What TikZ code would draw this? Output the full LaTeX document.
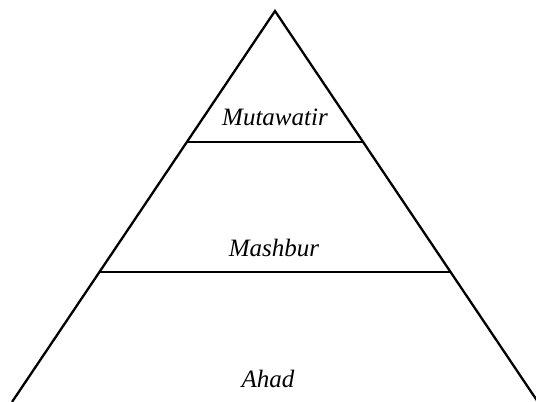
\documentclass[tikz,border=0pt]{standalone}
\usepackage{fontspec}
\setmainfont{Liberation Serif}
\usetikzlibrary{calc}
\begin{document}
\begin{tikzpicture}[x=1pt,y=1pt,
  edge/.style={line width=2.3pt,line join=miter},
  tier/.style={anchor=base,inner sep=0pt,font=\fontsize{25}{30}\selectfont\itshape}]
\useasboundingbox (0,0) rectangle (536,402);
\coordinate (A) at (275,391);
\coordinate (L) at (12,0);
\coordinate (R) at (538,0);
\draw[edge] (L) -- (A) -- (R);
\coordinate (L1) at ($(A)!0.335!(L)$);
\coordinate (R1) at ($(A)!0.335!(R)$);
\coordinate (L2) at ($(A)!0.6675!(L)$);
\coordinate (R2) at ($(A)!0.6675!(R)$);
\draw[edge] (L1) -- (R1);
\draw[edge] (L2) -- (R2);
\node[tier] (mut) at (275,276) {Mutawatir};
\node[tier] (mas) at (274,145) {Mashbur};
\node[tier] (aha) at (268,15) {Ahad};
\end{tikzpicture}
\end{document}
